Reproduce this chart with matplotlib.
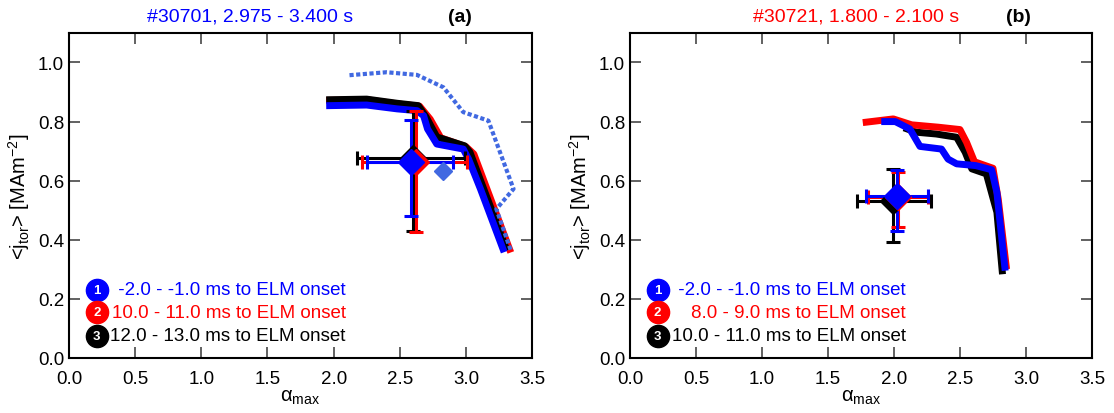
import matplotlib
matplotlib.use('Agg')
import matplotlib.pyplot as plt

plt.rcParams['font.family'] = ['Liberation Sans', 'DejaVu Sans']
plt.rcParams['mathtext.fontset'] = 'custom'
plt.rcParams['mathtext.rm'] = 'Liberation Sans'
plt.rcParams['mathtext.it'] = 'Liberation Sans'
plt.rcParams['font.size'] = 13.5

# shot 30701 profiles (alpha_max, <j_tor>)
a_blue_x = [1.97, 2.25, 2.48, 2.63, 2.68, 2.71, 2.78, 2.98, 3.02, 3.11, 3.28]
a_blue_y = [0.854, 0.856, 0.843, 0.837, 0.82, 0.775, 0.724, 0.707, 0.673, 0.572, 0.369]
a_red_x = [1.97, 2.25, 2.48, 2.65, 2.73, 2.81, 3.00, 3.06, 3.33]
a_red_y = [0.872, 0.874, 0.860, 0.852, 0.808, 0.745, 0.715, 0.690, 0.368]
a_black_x = [1.97, 2.25, 2.48, 2.64, 2.70, 2.78, 2.99, 3.03, 3.30]
a_black_y = [0.874, 0.876, 0.862, 0.854, 0.815, 0.748, 0.718, 0.697, 0.375]
a_dot_x = [2.12, 2.40, 2.63, 2.83, 2.98, 3.17, 3.36, 3.23, 3.34]
a_dot_y = [0.957, 0.967, 0.958, 0.916, 0.832, 0.803, 0.572, 0.504, 0.363]
a_extra = (2.83, 0.634)

# shot 30721 profiles
b_blue_x = [1.93, 2.01, 2.12, 2.197, 2.36, 2.41, 2.475, 2.62, 2.74, 2.78, 2.84]
b_blue_y = [0.80, 0.80, 0.775, 0.716, 0.707, 0.673, 0.657, 0.651, 0.637, 0.56, 0.307]
b_red_x = [1.79, 1.995, 2.134, 2.336, 2.50, 2.55, 2.61, 2.75, 2.79, 2.85]
b_red_y = [0.798, 0.809, 0.789, 0.781, 0.773, 0.730, 0.664, 0.642, 0.538, 0.312]
b_black_x = [2.10, 2.17, 2.32, 2.475, 2.54, 2.59, 2.70, 2.78, 2.82]
b_black_y = [0.775, 0.764, 0.758, 0.747, 0.696, 0.640, 0.623, 0.493, 0.295]

# means with asymmetric errors: x, y, xlo, xhi, ylo, yhi
a_err = {
    'black': (2.60, 0.677, 2.175, 2.99, 0.431, 0.837),
    'red': (2.62, 0.662, 2.217, 3.01, 0.427, 0.837),
    'blue': (2.585, 0.664, 2.25, 2.90, 0.48, 0.805),
}
b_err = {
    'black': (1.995, 0.532, 1.72, 2.28, 0.394, 0.64),
    'red': (2.03, 0.545, 1.80, 2.26, 0.442, 0.63),
    'blue': (2.02, 0.547, 1.79, 2.26, 0.431, 0.636),
}

a_labels = [' -2.0 - -1.0 ms to ELM onset', '10.0 - 11.0 ms to ELM onset',
            '12.0 - 13.0 ms to ELM onset']
b_labels = [' -2.0 - -1.0 ms to ELM onset', '8.0 - 9.0 ms to ELM onset',
            '10.0 - 11.0 ms to ELM onset']
colors = ['blue', 'red', 'black']

fig = plt.figure(figsize=(11.14, 4.14), dpi=100)
ax1 = fig.add_axes([0.062, 0.133, 0.4156, 0.785])
ax2 = fig.add_axes([0.5655, 0.133, 0.4147, 0.785])


def draw_err(ax, err, order):
    for c in order:
        x, y, xlo, xhi, ylo, yhi = err[c]
        ax.errorbar([x], [y], xerr=[[x - xlo], [xhi - x]], yerr=[[y - ylo], [yhi - y]],
                    fmt='D', color=c, ms=13, elinewidth=2.2, capsize=5, capthick=2.2,
                    zorder=4)


def legend(ax, labels):
    ys = [0.23, 0.155, 0.075]
    for i, (lab, c, yy) in enumerate(zip(labels, colors, ys)):
        ax.plot([0.21], [yy], 'o', color=c, ms=16, zorder=5)
        ax.text(0.21, yy, str(i + 1), color='white', fontsize=9.5, fontweight='bold',
                ha='center', va='center', zorder=6)
        ax.text(2.09, yy, lab, color=c, fontsize=13.5, ha='right', va='center', zorder=6)


def style(ax):
    ax.set_xlim(0, 3.5)
    ax.set_ylim(0, 1.1)
    ax.set_xticks([0.0, 0.5, 1.0, 1.5, 2.0, 2.5, 3.0, 3.5])
    ax.set_yticks([0.0, 0.2, 0.4, 0.6, 0.8, 1.0])
    ax.xaxis.set_major_formatter(plt.FormatStrFormatter('%.1f'))
    ax.yaxis.set_major_formatter(plt.FormatStrFormatter('%.1f'))
    ax.tick_params(direction='in', length=8, width=1.3, color='#555555',
                   top=True, right=True, labelsize=13.5)
    ax.tick_params(axis='x', pad=9)
    for s in ax.spines.values():
        s.set_linewidth(1.5)
    ax.set_xlabel(r'α$_{\rm max}$', fontsize=14.5, labelpad=0)
    ax.set_ylabel(r'<j$_{\rm tor}$> [MAm$^{-2}$]', fontsize=14.5)


# panel (a)
ax1.plot(a_red_x, a_red_y, color='red', lw=5, zorder=2)
ax1.plot(a_black_x, a_black_y, color='black', lw=5, zorder=2)
ax1.plot(a_blue_x, a_blue_y, color='blue', lw=5, zorder=3)
ax1.plot(a_dot_x, a_dot_y, color='royalblue', lw=3, ls=(0, (1, 0.6)), zorder=3.5)
draw_err(ax1, a_err, ['black', 'red', 'blue'])
ax1.plot([a_extra[0]], [a_extra[1]], 'D', color='royalblue', ms=9, zorder=4)
legend(ax1, a_labels)
style(ax1)
ax1.text(0.39, 1.025, '#30701, 2.975 - 3.400 s', color='blue', fontsize=14,
         ha='center', va='bottom', transform=ax1.transAxes)
ax1.text(0.845, 1.025, '(a)', fontsize=14, fontweight='bold',
         ha='center', va='bottom', transform=ax1.transAxes)

# panel (b)
ax2.plot(b_black_x, b_black_y, color='black', lw=5, zorder=2)
ax2.plot(b_red_x, b_red_y, color='red', lw=5, zorder=2)
ax2.plot(b_blue_x, b_blue_y, color='blue', lw=5, zorder=3)
draw_err(ax2, b_err, ['black', 'red', 'blue'])
legend(ax2, b_labels)
style(ax2)
ax2.text(0.49, 1.025, '#30721, 1.800 - 2.100 s', color='red', fontsize=14,
         ha='center', va='bottom', transform=ax2.transAxes)
ax2.text(0.84, 1.025, '(b)', fontsize=14, fontweight='bold',
         ha='center', va='bottom', transform=ax2.transAxes)

fig.savefig('out.png', dpi=100)
